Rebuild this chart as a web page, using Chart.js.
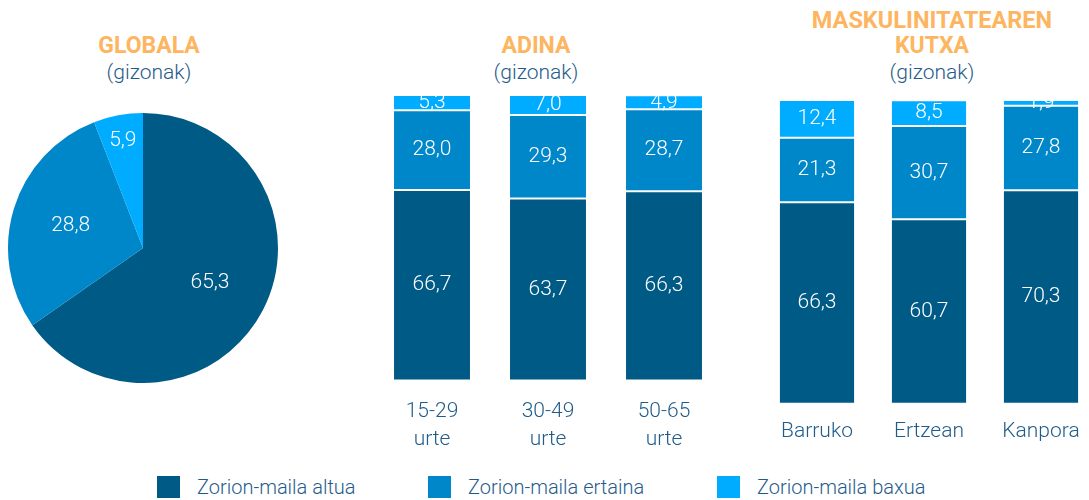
<!DOCTYPE html>
<html>
<head>
<meta charset="utf-8">
<script src="https://cdn.jsdelivr.net/npm/chart.js@4"></script>
<style>
  html, body { margin: 0; padding: 0; background: #fff; overflow: hidden; }
  body { width: 1089px; height: 500px; position: relative; font-family: Roboto, sans-serif; }
  canvas { position: absolute; }
  .title { position: absolute; width: 300px; text-align: center; line-height: 26px; }
  .title b { display: block; color: #FDB55F; font-size: 23px; font-weight: 700; }
  .title span { display: block; color: #1F5C8A; font-size: 21px; font-weight: 300; }
  .legend { position: absolute; top: 476px; height: 22px; display: flex; align-items: center; color: #1F5C8A; font-size: 20px; font-weight: 300; }
  .legend i { display: inline-block; width: 23px; height: 22px; margin-right: 17px; }
</style>
</head>
<body>
<div class="title" style="left:-1px; top:33px;"><b>GLOBALA</b><span>(gizonak)</span></div>
<div class="title" style="left:386px; top:33px;"><b>ADINA</b><span>(gizonak)</span></div>
<div class="title" style="left:782px; top:7px;"><b style="font-size:23.5px">MASKULINITATEAREN</b><b>KUTXA</b><span>(gizonak)</span></div>

<canvas id="pieChart" width="290" height="270" style="left:-2px; top:113px;"></canvas>
<canvas id="ageChart" width="348" height="376" style="left:374px; top:90px;"></canvas>
<canvas id="boxChart" width="336" height="359" style="left:761px; top:95px;"></canvas>

<div class="legend" style="left:157px;"><i style="background:#005A86"></i>Zorion-maila altua</div>
<div class="legend" style="left:428px;"><i style="background:#0087C9"></i>Zorion-maila ertaina</div>
<div class="legend" style="left:717px;"><i style="background:#00ACFF"></i>Zorion-maila baxua</div>

<script>
const colors = ["#005A86", "#0087C9", "#00ACFF"];
const seriesNames = ["Zorion-maila altua", "Zorion-maila ertaina", "Zorion-maila baxua"];

// Globala (pie)
const globalValues = [65.3, 28.8, 5.9];

// Adina
const ageLabels = [["15-29", "urte"], ["30-49", "urte"], ["50-65", "urte"]];
const ageHigh = [66.7, 63.7, 66.3];
const ageMid = [28.0, 29.3, 28.7];
const ageLow = [5.3, 7.0, 4.9];

// Maskulinitatearen kutxa
const boxLabels = ["Barruko", "Ertzean", "Kanpora"];
const boxHigh = [66.3, 60.7, 70.3];
const boxMid = [21.3, 30.7, 27.8];
const boxLow = [12.4, 8.5, 1.9];

const fmt = v => v.toFixed(1).replace(".", ",");
const labelFont = "300 21px Roboto";

// white value labels inside each bar segment
const barLabels = {
  id: "barLabels",
  afterDatasetsDraw(chart) {
    const c = chart.ctx;
    c.save();
    c.fillStyle = "#fff";
    c.font = labelFont;
    c.textAlign = "center";
    c.textBaseline = "middle";
    chart.data.datasets.forEach((ds, i) => {
      chart.getDatasetMeta(i).data.forEach((bar, j) => {
        const y = (bar.y + bar.base) / 2;
        c.fillText(fmt(ds.data[j]), bar.x, y);
      });
    });
    c.restore();
  }
};

const pieLabels = {
  id: "pieLabels",
  afterDatasetsDraw(chart) {
    const c = chart.ctx;
    c.save();
    c.fillStyle = "#fff";
    c.font = labelFont;
    c.textAlign = "center";
    c.textBaseline = "middle";
    const ds = chart.data.datasets[0];
    chart.getDatasetMeta(0).data.forEach((arc, j) => {
      const a = (arc.startAngle + arc.endAngle) / 2;
      const r = arc.outerRadius * (ds.data[j] < 10 ? 0.81 : 0.56);
      c.fillText(fmt(ds.data[j]), arc.x + Math.cos(a) * r, arc.y + Math.sin(a) * r);
    });
    c.restore();
  }
};

new Chart(document.getElementById("pieChart"), {
  type: "pie",
  data: {
    labels: seriesNames,
    datasets: [{ data: globalValues, backgroundColor: colors, borderWidth: 0 }]
  },
  options: {
    responsive: false,
    animation: false,
    layout: { padding: 0 },
    plugins: { legend: { display: false }, tooltip: { enabled: false } }
  },
  plugins: [pieLabels]
});

function stackedBars(id, labels, high, mid, low, barPct, pad) {
  return new Chart(document.getElementById(id), {
    type: "bar",
    data: {
      labels: labels,
      datasets: [high, mid, low].map((d, i) => ({
        label: seriesNames[i],
        data: d,
        backgroundColor: colors[i],
        borderColor: "rgba(255,255,255,0.15)",
        borderWidth: 1,
        borderSkipped: false,
        categoryPercentage: 1,
        barPercentage: barPct
      }))
    },
    options: {
      responsive: false,
      animation: false,
      layout: { padding: { top: 5, bottom: 3, left: 0, right: 0 } },
      plugins: { legend: { display: false }, tooltip: { enabled: false } },
      scales: {
        x: {
          stacked: true,
          grid: { display: false },
          border: { display: false },
          ticks: {
            color: "#1F5C8A",
            padding: pad,
            maxRotation: 0,
            font: { family: "Roboto", size: 21, weight: 300, lineHeight: 1.3 }
          }
        },
        y: { stacked: true, display: false, min: 0, max: 100 }
      }
    },
    plugins: [barLabels]
  });
}

stackedBars("ageChart", ageLabels, ageHigh, ageMid, ageLow, 0.672, 10);
stackedBars("boxChart", boxLabels, boxHigh, boxMid, boxLow, 0.68, 6);
</script>
</body>
</html>
